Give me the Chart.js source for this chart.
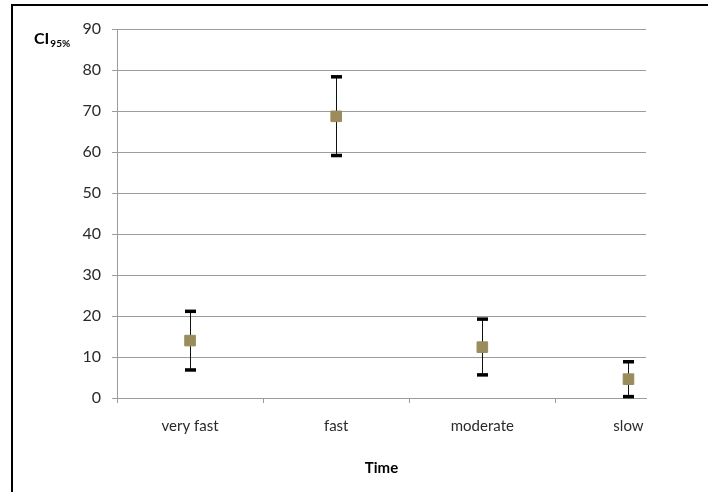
<!DOCTYPE html>
<html>
<head>
<meta charset="utf-8">
<script src="https://cdn.jsdelivr.net/npm/chart.js@4/dist/chart.umd.min.js"></script>
<style>
  html, body { margin: 0; padding: 0; background: #fff; }
  #wrap { position: relative; width: 708px; height: 492px; }
  #frame {
    position: absolute; left: 11px; top: 4px; right: 0; bottom: 0;
    border-left: 2px solid #000; border-top: 2px solid #000;
    pointer-events: none;
  }
</style>
</head>
<body>
<div id="wrap">
  <canvas id="ci-chart" width="708" height="492"></canvas>
  <div id="frame"></div>
</div>
<script>
// Доверительные интервалы по категориям скорости
const CATEGORIES = ['very fast', 'fast', 'moderate', 'slow'];
const MEANS = [14.0, 68.7, 12.4, 4.6];
const LOWER = [6.9, 59.2, 5.7, 0.4];
const UPPER = [21.2, 78.4, 19.3, 8.9];
const Y_TICKS = [0, 10, 20, 30, 40, 50, 60, 70, 80, 90];

// видимая часть оси x обрезана справа, как в исходной картинке
const X_MAX = 3.62;
const FONT = 'Lato, "Open Sans", sans-serif';
const GRID = '#9c9c9c';

(function () {
    'use strict';

    // усы доверительного интервала
    const errorBars = {
        id: 'errorBars',
        beforeDatasetsDraw(chart) {
            const { ctx } = chart;
            const xs = chart.scales.x, ys = chart.scales.y;
            ctx.save();
            CATEGORIES.forEach((c, i) => {
                const x = Math.round(xs.getPixelForValue(i + 0.5)) + 0.5;
                const yl = ys.getPixelForValue(LOWER[i]);
                const yh = ys.getPixelForValue(UPPER[i]);
                ctx.strokeStyle = '#111';
                ctx.lineWidth = 1;
                ctx.beginPath();
                ctx.moveTo(x, yh);
                ctx.lineTo(x, yl);
                ctx.stroke();
                ctx.fillStyle = '#000';
                ctx.fillRect(x - 5.5, yh - 1.5, 11, 3.5);
                ctx.fillRect(x - 5.5, yl - 1.5, 11, 3.5);
            });
            ctx.restore();
        }
    };

    // подпись оси y: CI с индексом 95%
    const yLabel = {
        id: 'yLabel',
        afterDraw(chart) {
            const { ctx } = chart;
            ctx.save();
            ctx.fillStyle = '#000';
            ctx.textBaseline = 'alphabetic';
            ctx.font = 'bold 16px ' + FONT;
            ctx.fillText('CI', 34, 44);
            const w = ctx.measureText('CI').width;
            ctx.font = 'bold 10px ' + FONT;
            ctx.fillText('95%', 34 + w + 1, 47);
            ctx.restore();
        }
    };

    new Chart(document.getElementById('ci-chart'), {
        type: 'scatter',
        data: {
            datasets: [{
                label: 'CI95%',
                data: MEANS.map((m, i) => ({ x: i + 0.5, y: m })),
                pointStyle: 'rect',
                pointRadius: 7.5,
                pointHoverRadius: 7.5,
                backgroundColor: '#9b8c5b',
                borderColor: '#9b8c5b',
                borderWidth: 1
            }]
        },
        options: {
            responsive: false,
            animation: false,
            layout: { padding: { left: 0, right: 62, top: 29, bottom: 15 } },
            plugins: {
                legend: { display: false },
                tooltip: { enabled: false }
            },
            scales: {
                x: {
                    type: 'linear',
                    position: 'bottom',
                    weight: 1,
                    min: 0,
                    max: X_MAX,
                    afterBuildTicks(scale) {
                        scale.ticks = CATEGORIES.map((c, i) => ({ value: i + 0.5 }));
                    },
                    grid: { display: false, drawTicks: false },
                    border: { display: false },
                    ticks: {
                        autoSkip: false,
                        maxRotation: 0,
                        padding: 14,
                        color: '#2a2a2a',
                        font: { family: FONT, size: 15 },
                        callback: (v, i) => CATEGORIES[i]
                    },
                    title: {
                        display: true,
                        text: 'Time',
                        color: '#000',
                        font: { family: FONT, size: 15, weight: 'bold' },
                        padding: { top: 10, bottom: 0 }
                    }
                },
                xt: {
                    type: 'linear',
                    position: 'bottom',
                    weight: 0,
                    min: 0,
                    max: X_MAX,
                    afterBuildTicks(scale) {
                        scale.ticks = [0, 1, 2, 3].map(v => ({ value: v }));
                    },
                    grid: { drawOnChartArea: false, drawTicks: true, tickLength: 5, color: GRID },
                    border: { color: GRID },
                    ticks: { display: false }
                },
                y: {
                    min: 0,
                    max: 90,
                    afterBuildTicks(scale) {
                        scale.ticks = Y_TICKS.map(v => ({ value: v }));
                    },
                    afterFit(scale) { scale.width = 117; },
                    grid: { color: GRID, tickLength: 5 },
                    border: { color: GRID },
                    ticks: {
                        padding: 11,
                        color: '#2a2a2a',
                        font: { family: FONT, size: 16 }
                    }
                }
            }
        },
        plugins: [errorBars, yLabel]
    });
})();
</script>
</body>
</html>
